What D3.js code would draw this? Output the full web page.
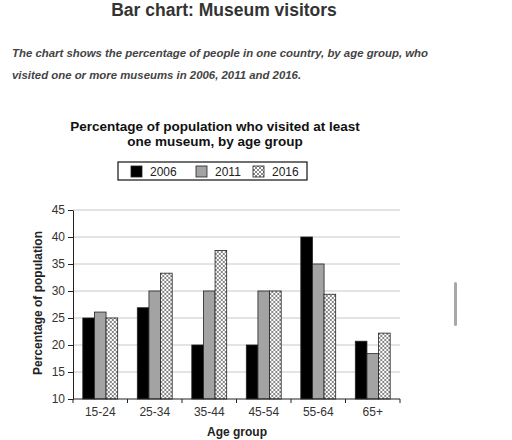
<!DOCTYPE html>
<html>
<head>
<meta charset="utf-8">
<script src="https://cdn.jsdelivr.net/npm/d3@7"></script>
<style>
  body { margin: 0; background: #fff; }
  svg { display: block; font-family: "Liberation Sans", Arial, sans-serif; }
</style>
</head>
<body>
<div class="chart"></div>
<script>
// DATA
const AGE_GROUPS = ["15-24", "25-34", "35-44", "45-54", "55-64", "65+"];
const YEARS = ["2006", "2011", "2016"];
const VALUES_2006 = [25, 26.9, 20, 20, 40, 20.7];
const VALUES_2011 = [26.1, 30, 30, 30, 35, 18.4];
const VALUES_2016 = [25, 33.3, 37.5, 30, 29.4, 22.2];
const Y_TICKS = [10, 15, 20, 25, 30, 35, 40, 45];

// GLOBAL CONSTANTS
const FRAME_WIDTH = 512;
const FRAME_HEIGHT = 440;
const MARGINS = {left: 73, right: 112, top: 210, bottom: 41};
const GRAPH_WIDTH = FRAME_WIDTH - MARGINS.left - MARGINS.right;
const GRAPH_HEIGHT = FRAME_HEIGHT - MARGINS.top - MARGINS.bottom;

const FRAME = d3.select(".chart")
  .append("svg")
    .attr("width", FRAME_WIDTH)
    .attr("height", FRAME_HEIGHT);

// hatch pattern for 2016
const defs = FRAME.append("defs");
const pat = defs.append("pattern")
  .attr("id", "hatch")
  .attr("patternUnits", "userSpaceOnUse")
  .attr("width", 4).attr("height", 4);
pat.append("rect").attr("width", 4).attr("height", 4).attr("fill", "#fff");
pat.append("path").attr("d", "M0,0 L4,4 M4,0 L0,4")
  .attr("stroke", "#555").attr("stroke-width", 0.7);

const FILLS = {"2006": "#000", "2011": "#a3a3a3", "2016": "url(#hatch)"};

// page header
FRAME.append("text")
  .attr("x", 224).attr("y", 16)
  .attr("text-anchor", "middle")
  .attr("font-size", "17.5px").attr("font-weight", "bold")
  .attr("fill", "#333")
  .text("Bar chart: Museum visitors");

const SUB = ["The chart shows the percentage of people in one country, by age group, who",
             "visited one or more museums in 2006, 2011 and 2016."];
FRAME.selectAll(".sub")
  .data(SUB).enter()
  .append("text")
    .attr("x", 12).attr("y", (d, i) => 57 + i * 22)
    .attr("font-size", "11.4px").attr("font-weight", "bold").attr("font-style", "italic")
    .attr("fill", "#444")
    .text(d => d);

// chart title
const TITLE = ["Percentage of population who visited at least", "one museum, by age group"];
FRAME.selectAll(".title")
  .data(TITLE).enter()
  .append("text")
    .attr("x", 215).attr("y", (d, i) => 131 + i * 15)
    .attr("text-anchor", "middle")
    .attr("font-size", "13.5px").attr("font-weight", "bold")
    .attr("fill", "#111")
    .text(d => d);

// SCALES
const X0 = d3.scaleBand()
  .domain(AGE_GROUPS)
  .range([0, GRAPH_WIDTH])
  .paddingInner(0.36)
  .paddingOuter(0.18);

const X1 = d3.scaleBand()
  .domain(YEARS)
  .range([0, X0.bandwidth()]);

const Y = d3.scaleLinear()
  .domain([10, 45])
  .range([GRAPH_HEIGHT, 0]);

const G = FRAME.append("g")
  .attr("transform", "translate(" + MARGINS.left + "," + MARGINS.top + ")");

// gridlines
G.selectAll(".grid")
  .data(Y_TICKS.slice(1)).enter()
  .append("line")
    .attr("x1", 0).attr("x2", GRAPH_WIDTH)
    .attr("y1", d => Y(d)).attr("y2", d => Y(d))
    .attr("stroke", "#c8c8c8").attr("stroke-width", 1);

// bars
const rows = AGE_GROUPS.map((g, i) => ({
  group: g,
  vals: [VALUES_2006[i], VALUES_2011[i], VALUES_2016[i]]
}));

G.selectAll(".grp")
  .data(rows).enter()
  .append("g")
    .attr("transform", d => "translate(" + X0(d.group) + ",0)")
  .selectAll("rect")
  .data(d => d.vals.map((v, j) => ({year: YEARS[j], value: v})))
  .enter()
  .append("rect")
    .attr("x", d => X1(d.year))
    .attr("y", d => Y(d.value))
    .attr("width", X1.bandwidth())
    .attr("height", d => GRAPH_HEIGHT - Y(d.value))
    .attr("fill", d => FILLS[d.year])
    .attr("stroke", "#222").attr("stroke-width", 0.8);

// Y AXIS
const yAxis = G.append("g")
  .call(d3.axisLeft(Y).tickValues(Y_TICKS).tickSize(5).tickSizeOuter(0));
yAxis.select(".domain").attr("stroke", "#222");
yAxis.selectAll(".tick line").attr("stroke", "#222");
yAxis.selectAll("text")
  .attr("font-size", "12px").attr("fill", "#333")
  .attr("font-family", "Liberation Sans, Arial, sans-serif");

// X AXIS, ticks between groups
const xAxis = G.append("g")
  .attr("transform", "translate(0," + GRAPH_HEIGHT + ")");
xAxis.append("line")
  .attr("x1", 0).attr("x2", GRAPH_WIDTH)
  .attr("stroke", "#222").attr("stroke-width", 1.2);
const bounds = AGE_GROUPS.map(g => X0(g) - X0.step() * X0.paddingInner() / 2);
bounds.push(GRAPH_WIDTH);
xAxis.selectAll(".xt")
  .data(bounds).enter()
  .append("line")
    .attr("x1", d => d).attr("x2", d => d)
    .attr("y1", 0).attr("y2", 4)
    .attr("stroke", "#222");
xAxis.selectAll(".xl")
  .data(AGE_GROUPS).enter()
  .append("text")
    .attr("x", d => X0(d) + X0.bandwidth() / 2)
    .attr("y", 17)
    .attr("text-anchor", "middle")
    .attr("font-size", "12px").attr("fill", "#333")
    .text(d => d);

// axis titles
FRAME.append("text")
  .attr("x", 237).attr("y", 436)
  .attr("text-anchor", "middle")
  .attr("font-size", "12px").attr("font-weight", "bold").attr("fill", "#222")
  .text("Age group");

FRAME.append("text")
  .attr("transform", "translate(42,303) rotate(-90)")
  .attr("text-anchor", "middle")
  .attr("font-size", "12px").attr("font-weight", "bold").attr("fill", "#222")
  .text("Percentage of population");

// LEGEND
const LEG = FRAME.append("g");
LEG.append("rect")
  .attr("x", 118).attr("y", 162)
  .attr("width", 189).attr("height", 18)
  .attr("fill", "#fff").attr("stroke", "#111").attr("stroke-width", 1.2);
const LEG_X = [131, 196, 253];
LEG.selectAll(".sw")
  .data(YEARS).enter()
  .append("rect")
    .attr("x", (d, i) => LEG_X[i]).attr("y", 166)
    .attr("width", 11).attr("height", 11)
    .attr("fill", d => FILLS[d])
    .attr("stroke", "#222").attr("stroke-width", 0.8);
LEG.selectAll(".lt")
  .data(YEARS).enter()
  .append("text")
    .attr("x", (d, i) => LEG_X[i] + 19).attr("y", 176)
    .attr("font-size", "12px").attr("fill", "#222")
    .text(d => d);

// scrollbar remnant from screenshot
FRAME.append("rect")
  .attr("x", 454).attr("y", 282)
  .attr("width", 3).attr("height", 44)
  .attr("rx", 1.5)
  .attr("fill", "#a8a8a8");
</script>
</body>
</html>
